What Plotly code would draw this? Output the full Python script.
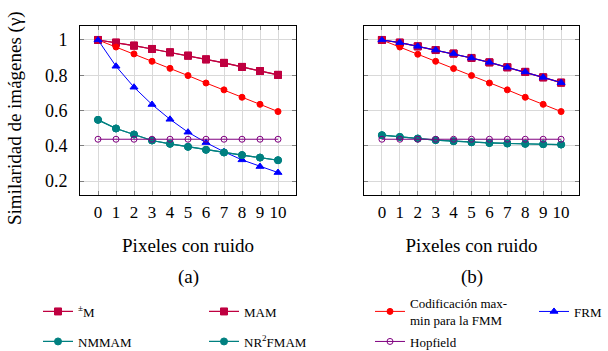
import plotly.graph_objects as go

# ---------------- data ----------------
noise = [0, 1, 2, 3, 4, 5, 6, 7, 8, 9, 10]

# (a)
pm_a = [1.0, 0.985, 0.968, 0.949, 0.930, 0.911, 0.890, 0.870, 0.847, 0.824, 0.802]
mam_a = [1.0, 0.985, 0.968, 0.949, 0.930, 0.911, 0.890, 0.870, 0.847, 0.824, 0.802]
cod_a = [1.0, 0.960, 0.921, 0.879, 0.839, 0.798, 0.756, 0.717, 0.675, 0.635, 0.594]
frm_a = [1.0, 0.851, 0.732, 0.634, 0.550, 0.477, 0.418, 0.366, 0.320, 0.282, 0.248]
nmmam_a = [0.547, 0.498, 0.464, 0.430, 0.411, 0.394, 0.377, 0.362, 0.347, 0.333, 0.318]
nr2_a = [0.547, 0.498, 0.464, 0.430, 0.411, 0.394, 0.377, 0.362, 0.347, 0.333, 0.318]
hop_a = [0.437] * 11

# (b)
pm_b = [1.0, 0.985, 0.964, 0.943, 0.923, 0.898, 0.873, 0.845, 0.819, 0.788, 0.758]
mam_b = [1.0, 0.985, 0.964, 0.943, 0.923, 0.898, 0.873, 0.845, 0.819, 0.788, 0.758]
cod_b = [1.0, 0.960, 0.919, 0.879, 0.838, 0.798, 0.756, 0.717, 0.675, 0.635, 0.594]
frm_b = [1.0, 0.985, 0.964, 0.943, 0.923, 0.898, 0.873, 0.845, 0.819, 0.788, 0.758]
nmmam_b = [0.460, 0.450, 0.441, 0.432, 0.426, 0.420, 0.416, 0.413, 0.411, 0.409, 0.407]
nr2_b = [0.460, 0.450, 0.441, 0.432, 0.426, 0.420, 0.416, 0.413, 0.411, 0.409, 0.407]
hop_b = [0.437] * 11

names = ["<sup>±</sup>M", "MAM", "Codificación max-<br>min para la FMM", "FRM",
         "NMMAM", "NR<sup>2</sup>FMAM", "Hopfield"]
x_ticks = [0, 1, 2, 3, 4, 5, 6, 7, 8, 9, 10]
y_ticks = [0.2, 0.4, 0.6, 0.8, 1.0]
y_ticklabels = ["0.2", "0.4", "0.6", "0.8", "1"]
x_title = "Pixeles con ruido"
y_title = "Similaridad de imágenes (γ)"
captions = ["(a)", "(b)"]

# ---------------- styles ----------------
PURPLE = "#bf0040"
RED = "#ff0000"
BLUE = "#0000ff"
TEAL = "#008080"
VIOLET = "#800080"
styles = [
    dict(color=PURPLE, symbol="square", size=7, lw=1.2),
    dict(color=PURPLE, symbol="square", size=7, lw=1.2),
    dict(color=RED, symbol="circle", size=6, lw=1),
    dict(color=BLUE, symbol="triangle-up", size=7, lw=1),
    dict(color=TEAL, symbol="circle", size=7, lw=1.2),
    dict(color=TEAL, symbol="circle", size=7, lw=1.2),
    dict(color=VIOLET, symbol="circle-open", size=6, lw=1),
]
# legend positions (px, container)
leg_pos = [(38, 311.5), (204, 311.5), (370, 311.5), (534, 311.5),
           (38, 341.5), (204, 341.5), (370, 341.5)]

W, H = 608, 351
SERIF = "Liberation Serif"
fig = go.Figure()

series_a = [pm_a, mam_a, cod_a, frm_a, nmmam_a, nr2_a, hop_a]
series_b = [pm_b, mam_b, cod_b, frm_b, nmmam_b, nr2_b, hop_b]

for i, (ya, yb) in enumerate(zip(series_a, series_b)):
    st = styles[i]
    mk = dict(color=st["color"], symbol=st["symbol"], size=st["size"],
              line=dict(color=st["color"], width=1))
    lg = "legend" if i == 0 else f"legend{i+1}"
    fig.add_trace(go.Scatter(x=noise, y=ya, mode="lines+markers", name=names[i],
                             line=dict(color=st["color"], width=st["lw"]),
                             marker=mk, xaxis="x", yaxis="y", legend=lg,
                             showlegend=True))
    fig.add_trace(go.Scatter(x=noise, y=yb, mode="lines+markers", name=names[i],
                             line=dict(color=st["color"], width=st["lw"]),
                             marker=mk, xaxis="x2", yaxis="y2", legend=lg,
                             showlegend=False))

L, R, T, B = 80, 29, 26, 156
pw = W - L - R
ph = H - T - B
d1 = [0, 216 / pw]
d2 = [(364 - L) / pw, 1]

axis_common = dict(showline=True, linecolor="#000000", linewidth=1, mirror="ticks",
                   ticks="inside", ticklen=4, tickcolor="#7f7f7f",
                   showgrid=True, gridcolor="#d9d9d9", gridwidth=1, zeroline=False,
                   automargin=False)
xfont = dict(family=SERIF, size=17, color="#000")
yfont = dict(family=SERIF, size=18, color="#000")
tfont = dict(family=SERIF, size=19, color="#000")


def px_x(p):
    return (p - L) / pw


def px_y(p):
    return (H - B - p) / ph


layout = dict(
    template="none",
    font=dict(family=SERIF, size=13, color="#000"),
    width=W, height=H, margin=dict(l=L, r=R, t=T, b=B, autoexpand=False),
    paper_bgcolor="white", plot_bgcolor="white",
    xaxis=dict(domain=d1, range=[-1, 11], tickvals=x_ticks, tickfont=xfont,
               ticklabelstandoff=2,
               title=dict(text=x_title, font=tfont, standoff=17), **axis_common),
    xaxis2=dict(domain=d2, range=[-1, 11], tickvals=x_ticks, tickfont=xfont,
                anchor="y2", ticklabelstandoff=2,
                title=dict(text=x_title, font=tfont, standoff=17), **axis_common),
    yaxis=dict(range=[0.1207, 1.0793], tickvals=y_ticks, ticktext=y_ticklabels,
               tickfont=yfont, ticklabelstandoff=8, **axis_common),
    yaxis2=dict(range=[0.1207, 1.0793], tickvals=y_ticks, showticklabels=False,
                anchor="x2", **axis_common),
    annotations=[
        dict(text=captions[0], x=px_x((80 + 296) / 2), y=px_y(277),
             xref="paper", yref="paper", showarrow=False, font=tfont,
             xanchor="center", yanchor="middle"),
        dict(text=captions[1], x=px_x((364 + 579) / 2), y=px_y(277),
             xref="paper", yref="paper", showarrow=False, font=tfont,
             xanchor="center", yanchor="middle"),
        dict(text=y_title, x=px_x(15), y=px_y(118), xref="paper",
             yref="paper", showarrow=False, font=tfont, textangle=-90,
             xanchor="center", yanchor="middle"),
    ],
)

lfont = dict(family=SERIF, size=13, color="#000")
for i, (px, py) in enumerate(leg_pos):
    key = "legend" if i == 0 else f"legend{i+1}"
    layout[key] = dict(xref="container", yref="container", x=px / W, y=1 - py / H,
                       xanchor="left", yanchor="middle", font=lfont,
                       bgcolor="rgba(0,0,0,0)", borderwidth=0, orientation="v",
                       itemclick=False, itemdoubleclick=False)

fig.update_layout(**layout)
fig.write_html("out.html", config={"displayModeBar": False},
               post_script="document.body.style.margin='0';")
